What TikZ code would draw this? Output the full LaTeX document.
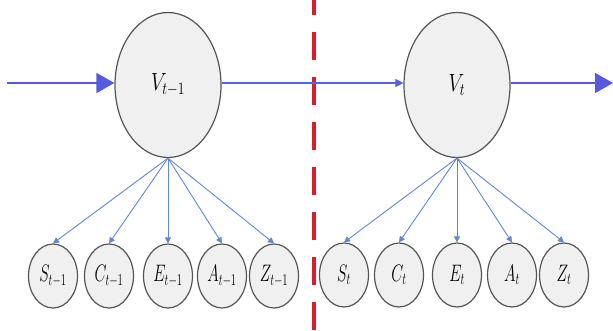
\documentclass[tikz,border=0pt]{standalone}
\usetikzlibrary{arrows.meta,shapes.geometric}
\definecolor{fillg}{RGB}{240,240,240}
\definecolor{edgeg}{RGB}{85,85,85}
\definecolor{mainblue}{RGB}{85,90,225}
\definecolor{fanblue}{RGB}{95,135,210}
\definecolor{dashred}{RGB}{215,30,45}
\newcommand{\biglab}[1]{\scalebox{0.95}[1.2]{$#1$}}
\newcommand{\smlab}[1]{\scalebox{0.75}[1.15]{$#1$}}
\tikzset{
  big/.style={ellipse, draw=edgeg, fill=fillg, line width=1.2pt, minimum width=106pt, minimum height=145pt, inner sep=0pt, font=\huge},
  small/.style={ellipse, draw=edgeg, fill=fillg, line width=1.2pt, minimum width=49pt, minimum height=64pt, inner sep=0pt, font=\huge},
  mainarrow/.style={mainblue, line width=1.8pt, -{Triangle[length=18pt,width=20pt]}},
  midarrow/.style={mainblue!80!fanblue, line width=1.3pt, -{Triangle[length=8pt,width=8pt]}},
  fan/.style={fanblue, line width=0.9pt, -{Triangle[length=6pt,width=6pt]}},
  sep/.style={dashred, line width=3.5pt, dash pattern=on 28pt off 17pt}
}
\begin{document}
\begin{tikzpicture}[x=1pt,y=-1pt]
\useasboundingbox (0,0) rectangle (613,330);
\draw[sep] (314,-13) -- (314,330);
\node[big] (V1) at (168,85) {\biglab{V_{t-1}}};
\node[big] (V2) at (457,85) {\biglab{V_{t}}};
\coordinate (in) at (7,83);
\coordinate (out) at (613,83);
\draw[mainarrow] (in) -- (V1.west |- in);
\draw[midarrow] (V1.east |- in) -- (V2.west |- in);
\draw[mainarrow] (V2.east |- out) -- (out);
\node[small] (S1) at (53,276) {\smlab{S_{t-1}}};
\node[small] (C1) at (109,276) {\smlab{C_{t-1}}};
\node[small] (E1) at (168,276) {\smlab{E_{t-1}}};
\node[small] (A1) at (222,276) {\smlab{A_{t-1}}};
\node[small] (Z1) at (274,276) {\smlab{Z_{t-1}}};
\node[small] (S2) at (344,275) {\smlab{S_{t}}};
\node[small] (C2) at (399,275) {\smlab{C_{t}}};
\node[small] (E2) at (457,275) {\smlab{E_{t}}};
\node[small] (A2) at (512,275) {\smlab{A_{t}}};
\node[small] (Z2) at (564,275) {\smlab{Z_{t}}};
\foreach \n in {S1,C1,E1,A1,Z1} \draw[fan] (V1.south) -- (\n.north);
\foreach \n in {S2,C2,E2,A2,Z2} \draw[fan] (V2.south) -- (\n.north);
\end{tikzpicture}
\end{document}
